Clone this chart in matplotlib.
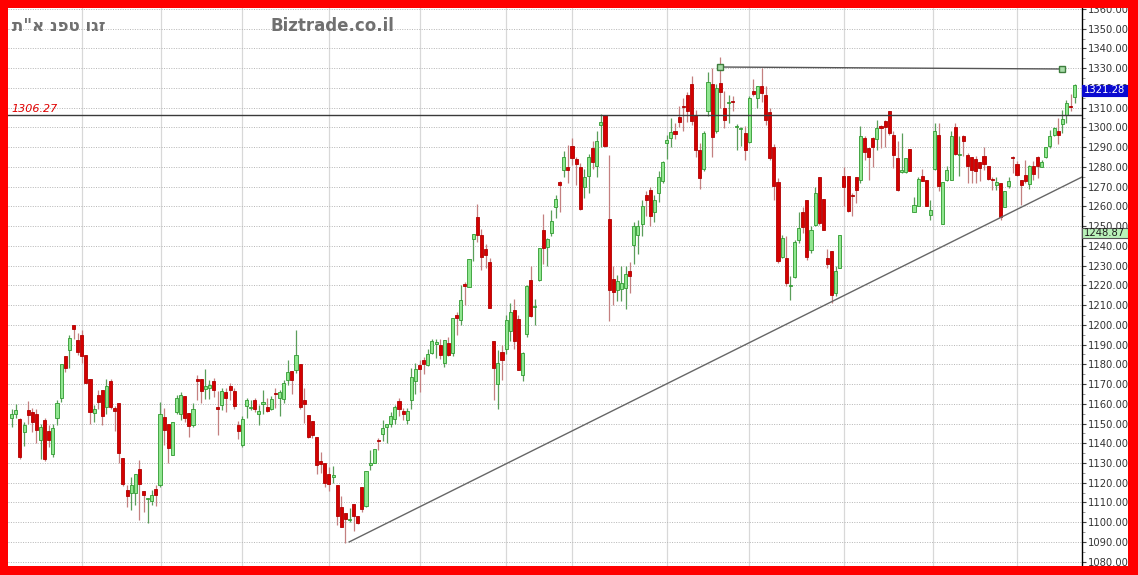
import matplotlib.pyplot as plt
import matplotlib.transforms as mtransforms
import numpy as np
from matplotlib.patches import Rectangle
from matplotlib.ticker import MultipleLocator, FormatStrFormatter

plt.rcParams['font.family'] = ['DejaVu Sans', 'Liberation Sans']

# daily candles (oldest first)
opens = [
    1153, 1154.8, 1152.4, 1145.5, 1156.8, 1155.8, 1155, 1141.6, 1151.7, 1146.3,
    1134.5, 1152.7, 1163, 1184.2, 1187.2, 1200, 1192.3, 1194.8, 1184.8, 1172.5,
    1155.1, 1164.4, 1167, 1158.5, 1171.3, 1158, 1160.2, 1132.6, 1116.2, 1115,
    1114.6, 1127.2, 1115.7, 1111.6, 1110.8, 1116.6, 1118.8, 1153.4, 1150, 1134,
    1155.8, 1154.6, 1164, 1155.5, 1149, 1172.3,
    1172.5, 1167.4, 1168, 1171.3, 1158.3, 1159.5, 1165.8, 1168.8, 1166.3, 1149.4,
    1138.9, 1158.7, 1158, 1161.7, 1154.8, 1159.9, 1158.2, 1157.3, 1165.6, 1162.9,
    1162.4, 1172.2, 1176.4, 1176.9, 1180.3, 1162, 1154.4, 1151.1, 1143.4, 1130.8,
    1129.9, 1124.5, 1123, 1118.9, 1107.5, 1104.6, 1101.2, 1109.2, 1102.9, 1118,
    1108.4, 1129.2, 1129.9, 1141.9, 1144.8, 1148.2,
    1150, 1152.2, 1161.2, 1156.2, 1151.9, 1161.7, 1171.3, 1179.8, 1182.3, 1179.8,
    1185.8, 1190.1, 1190, 1180.6, 1190.8, 1185.6, 1204.8, 1202.2, 1220.5, 1219.2,
    1243.5, 1254.6, 1245.7, 1238.4, 1231.6, 1191.6, 1170.2, 1186, 1187.8, 1196.7,
    1207.3, 1203, 1174.7, 1195.5, 1222.9, 1208.8, 1222.9, 1248.2, 1239.4, 1246.3,
    1259.5, 1272.5,
    1278.5, 1279.9, 1290.7, 1284, 1279.9, 1269.7, 1275.5, 1289.5, 1280.6, 1301.3,
    1306.4, 1253.5, 1223.2, 1217.4, 1218.3, 1218.5, 1227.5, 1240.6, 1245.6, 1251.2,
    1265.9, 1268.4, 1257, 1266.7, 1273.1, 1292, 1294.6, 1298, 1305.3, 1310.8,
    1316.6,
    1321.8, 1306.5, 1288.5, 1279, 1308.2, 1321.8, 1298, 1322.5, 1310, 1312.2,
    1313.5, 1300.2, 1299, 1297.1, 1292.4, 1318.3, 1315, 1320.8, 1316.6, 1307.6,
    1290, 1272.1, 1234.6, 1233.8, 1219.8, 1224.4, 1243.1, 1257.3, 1263, 1238,
    1250.7, 1274.8, 1263.7, 1233.9, 1237.2, 1216.1, 1228.7, 1275.2, 1275.2, 1265.8,
    1274.8, 1273.5, 1294.6, 1289.6, 1294.4, 1294.1, 1300.5, 1303.4, 1308.1,
    1296.3, 1284.5, 1277.2, 1277.2, 1289, 1257, 1260, 1275.5, 1273.5, 1255.4,
    1279.1, 1296.3, 1251.2, 1273.2, 1273.5, 1300, 1286, 1295.5, 1286.2, 1285,
    1284, 1282.3, 1285.3, 1280.3, 1273.7, 1271, 1271.8, 1259.7, 1270.1, 1284.7,
    1281.6, 1273.2, 1276, 1271.3, 1280.6, 1285, 1279.8, 1285, 1290.4, 1296,
    1298, 1301.7, 1306.5, 1310.5, 1315.6,
]
highs = [
    1157.5, 1159.7, 1153, 1150.9, 1161.5, 1158, 1157.6, 1149.7, 1152.6, 1149.2,
    1149.7, 1161.9, 1180, 1184.2, 1195, 1200, 1196.1, 1197.3, 1184.8, 1172.5,
    1159.2, 1167, 1167, 1172.3, 1172.8, 1159, 1160.2, 1132.6, 1118.8, 1123,
    1124.4, 1131.5, 1115.7, 1112.5, 1116.2, 1118.8, 1161, 1158, 1150, 1151,
    1164.4, 1166.1, 1164, 1155.5, 1160.5, 1174.5,
    1172.5, 1177.6, 1172.2, 1173, 1166.3, 1168, 1168, 1170.5, 1168, 1151.1,
    1154, 1162.9, 1162, 1162.9, 1159.6, 1167, 1162.9, 1163.7, 1168, 1167,
    1172.2, 1182, 1176.4, 1197.2, 1180.3, 1168, 1154.4, 1151.1, 1143.4, 1135.4,
    1129.9, 1128.2, 1128.5, 1118.9, 1113.4, 1104.6, 1107, 1109.2, 1102.9, 1118,
    1125.7, 1136.4, 1137.2, 1142.6, 1151.9, 1149.7,
    1156, 1159.5, 1163, 1158, 1158, 1178, 1180.6, 1182, 1183.5, 1187.9,
    1193, 1193, 1192.8, 1192.5, 1194, 1203.5, 1206.6, 1220, 1221.6, 1233.1,
    1246, 1261.1, 1248.5, 1241, 1234, 1191.6, 1187, 1190, 1205.2, 1211,
    1213, 1205, 1186, 1220, 1230, 1213, 1239, 1256, 1244, 1258,
    1266, 1273,
    1288, 1291, 1294.5, 1285, 1282, 1279, 1286.5, 1293, 1298, 1307,
    1306.4, 1286, 1230, 1225, 1230, 1230, 1232, 1252, 1253, 1263,
    1268, 1270, 1266, 1278, 1283, 1296, 1305, 1302, 1311, 1315,
    1318,
    1326, 1309, 1292, 1298, 1328, 1330, 1322, 1335.7, 1318.3, 1316.6,
    1315.7, 1301.9, 1300, 1300.5, 1315.7, 1324.5, 1321.1, 1330, 1320.8, 1309.8,
    1291.7, 1274.3, 1245.6, 1244.8, 1224.5, 1243, 1257.3, 1259.8, 1263.3, 1249.9,
    1270, 1275, 1263.7, 1238.6, 1237.2, 1229.6, 1245.6, 1280.2, 1275.2, 1266.7,
    1274.8, 1300.5, 1295.8, 1289.6, 1295.4, 1303.9, 1301.4, 1304, 1308.1,
    1298, 1292.9, 1297.2, 1284.5, 1289, 1265, 1274.9, 1278.9, 1273.5, 1263.4,
    1302.2, 1302.2, 1272.2, 1280.3, 1298, 1302.2, 1295.5, 1296.3, 1287, 1285,
    1285.3, 1282.3, 1290, 1280.3, 1274.9, 1274.9, 1271.8, 1267.6, 1274.9, 1285.3,
    1282.8, 1273.2, 1283.3, 1281.1, 1282.8, 1285.3, 1283.3, 1290.1, 1298.9, 1300.2,
    1304.8, 1309, 1314, 1317.1, 1321.8,
]
lows = [
    1148, 1152.6, 1132, 1138.5, 1150, 1145.5, 1140, 1132, 1131, 1138,
    1133, 1149, 1160.8, 1176, 1177.9, 1192.6, 1184.5, 1180.8, 1170.3, 1150,
    1150.7, 1157.5, 1149, 1155, 1157.6, 1146, 1129.8, 1118.6, 1107.5, 1106,
    1108.6, 1101, 1105, 1099.4, 1108.6, 1108.1, 1118, 1138.9, 1130, 1134,
    1155, 1151.7, 1150.9, 1143.3, 1148.3, 1161.9,
    1160.3, 1162.4, 1162.4, 1163.4, 1144.3, 1157, 1156, 1162, 1157.4, 1142.2,
    1138, 1152.7, 1157, 1155.6, 1149.4, 1155, 1155.6, 1156.6, 1157.8, 1153.8,
    1160.3, 1169.6, 1164.9, 1175.6, 1157.3, 1150.2, 1142.6, 1142.6, 1124.5, 1124.9,
    1118, 1115.6, 1119.8, 1098.7, 1097.5, 1089.7, 1100, 1095.4, 1099.1, 1105.4,
    1107.9, 1126.5, 1129.9, 1136.8, 1141, 1140.2,
    1148, 1150, 1154, 1152, 1150, 1157.3, 1165, 1166, 1175, 1179,
    1185, 1183, 1182.6, 1178.8, 1184, 1184, 1195, 1200, 1210, 1219,
    1232.5, 1242, 1228, 1229, 1208.5, 1162, 1157.3, 1172, 1185, 1192,
    1188, 1177, 1171.3, 1194, 1204, 1200, 1222, 1231, 1230, 1245,
    1254, 1257,
    1275, 1272, 1281, 1271, 1258, 1264, 1267, 1279, 1275, 1290,
    1290, 1202, 1210, 1212, 1212, 1208, 1216, 1231, 1236, 1245,
    1255, 1250, 1252, 1262, 1272, 1284, 1290, 1294, 1300, 1298,
    1303,
    1301, 1285, 1269, 1278, 1306, 1285, 1297, 1310, 1299.7, 1302.2,
    1308.1, 1288.7, 1290.4, 1283.6, 1292, 1315.8, 1309.8, 1313, 1301.4, 1283.6,
    1263.4, 1231.2, 1233.8, 1219.5, 1212.7, 1223.6, 1241.4, 1246.3, 1233, 1236.3,
    1250, 1250.7, 1248, 1228.9, 1211, 1214.6, 1228.7, 1260, 1257, 1254.9,
    1261.7, 1271.8, 1283.6, 1273.5, 1280.2, 1288.7, 1289.5, 1290, 1296,
    1279.4, 1268, 1276.9, 1276.9, 1277.7, 1257, 1260, 1273, 1260, 1252.9,
    1278.6, 1267.6, 1251.2, 1272.7, 1273.5, 1286.2, 1275.2, 1285.3, 1271.8, 1271.8,
    1271.8, 1272.7, 1278.6, 1273.5, 1268.4, 1268.4, 1253.2, 1259.7, 1269.3, 1276.9,
    1275.5, 1260.8, 1271.8, 1268.8, 1273.2, 1274.4, 1279.8, 1284.5, 1289.5, 1295.5,
    1291.8, 1297.2, 1302.2, 1308.1, 1312.5,
]
closes = [
    1155, 1156.8, 1133, 1149.2, 1154.4, 1150.7, 1146.7, 1148.3, 1132, 1141.6,
    1147.7, 1160.2, 1180, 1178, 1193.4, 1197.7, 1186.4, 1184.3, 1170.3, 1155.8,
    1157.3, 1161, 1153.7, 1169, 1158.5, 1156.5, 1135.2, 1119.6, 1113.2, 1119.1,
    1124.4, 1119.3, 1113.7, 1112.5, 1113.7, 1114, 1155, 1146.7, 1137.4, 1151,
    1163, 1164.4, 1152.9, 1148.7, 1157.6, 1171.5,
    1166.7, 1168.8, 1169.6, 1167, 1157.3, 1166.3, 1162.9, 1166.8, 1158.7, 1146.4,
    1152.3, 1162, 1158.6, 1157.3, 1156.5, 1161, 1156.5, 1162.4, 1165, 1165.8,
    1170.5, 1175.9, 1172.2, 1184.9, 1158.3, 1159.9, 1143.4, 1144.3, 1128.8, 1129.4,
    1119.8, 1119.4, 1123.7, 1102.9, 1097.5, 1101.6, 1101.8, 1102.9, 1099.5, 1106.6,
    1125.7, 1129.8, 1137, 1141, 1147.7, 1149.7,
    1154, 1158.2, 1157.3, 1154.8, 1156.2, 1173.5, 1177.6, 1177.6, 1180.1, 1185.4,
    1191.6, 1191.3, 1184.8, 1192.2, 1184.8, 1203.4, 1203.7, 1212.4, 1219.5, 1233.1,
    1246, 1245.7, 1234.4, 1235.5, 1208.5, 1178.1, 1180.6, 1182, 1202.6, 1206.3,
    1191.6, 1177.3, 1185.7, 1219.5, 1204.6, 1209.6, 1238.9, 1238.9, 1243.6, 1252.4,
    1263.7, 1271,
    1285, 1278.5, 1284.4, 1281.4, 1258.6, 1274.8, 1285, 1282.3, 1293, 1302.5,
    1290.4, 1217.4, 1216.4, 1222, 1221, 1225.8, 1224.5, 1249.9, 1249.9, 1260.3,
    1263.3, 1255.3, 1263.3, 1274.8, 1282.6, 1293.4, 1297.5, 1296.6, 1303, 1310.3,
    1308.2,
    1303.2, 1288.5, 1274.3, 1297.2, 1323.2, 1295.1, 1320, 1317.7, 1303.7, 1312.8,
    1313, 1300.8, 1299.4, 1288.7, 1314.9, 1317.1, 1321.1, 1317.4, 1303.9, 1284.5,
    1270.5, 1232.1, 1243.9, 1221.1, 1220.2, 1242.2, 1249, 1249.7, 1234.6, 1248.2,
    1266.7, 1251.6, 1248.2, 1230.6, 1215.2, 1227.1, 1245.3, 1269.8, 1257.5, 1265.4,
    1268.4, 1295.8, 1287.5, 1285, 1289.9, 1299.7, 1299.5, 1300, 1297.1,
    1286.2, 1268.4, 1278.6, 1284.5, 1277.7, 1260.8, 1273.8, 1273, 1260.3, 1258,
    1298.3, 1270.1, 1272.2, 1278.6, 1295.8, 1286.7, 1286.4, 1292.9, 1280.6, 1278.6,
    1277.7, 1279.4, 1281.5, 1273.9, 1273.3, 1272.2, 1254.6, 1267.6, 1273, 1284.3,
    1276, 1271, 1272.7, 1280.3, 1276.4, 1280.6, 1282.3, 1290.1, 1295.8, 1299.7,
    1296.3, 1304.3, 1312.4, 1310.1, 1321.28,
]

# month separators (candle index)
month_lines = [17, 36.2, 56, 77, 99, 120, 136, 159, 179, 202, 223.6, 244]

# drawn lines
level_price = 1306.27
trend_x = [81.9, 259.7]
trend_y = [1090.0, 1274.8]
peak_x = [172, 255]
peak_y = [1330.6, 1329.6]

last_price = 1321.28
other_price = 1248.87

title_he = 'ת"א נפט וגז'
site = 'Biztrade.co.il'

W, H = 1138, 575
fig = plt.figure(figsize=(W / 100, H / 100), dpi=100)
fig.patch.set_facecolor('white')

ax = fig.add_axes([8 / W, (H - 566) / H, (1081.5 - 8) / W, (566 - 8) / H])
ax.set_facecolor('white')

o = np.array(opens)
h = np.array(highs)
l = np.array(lows)
c = np.array(closes)
idx = np.arange(len(c))
up = c >= o

ax.vlines(idx[up], l[up], h[up], color='#5a9e5a', lw=0.9, zorder=2)
ax.vlines(idx[~up], l[~up], h[~up], color='#c48080', lw=0.9, zorder=2)

body_lo = np.minimum(o, c)
body_h = np.maximum(np.abs(c - o), 0.6)
ax.bar(idx[up], body_h[up], bottom=body_lo[up], width=0.75,
       color='#90e690', edgecolor='#2f9a2f', lw=0.6, zorder=3)
ax.bar(idx[~up], body_h[~up], bottom=body_lo[~up], width=0.75,
       color='#d40000', edgecolor='#b00000', lw=0.6, zorder=3)

# lines drawn by user
ax.axhline(level_price, color='#3a3a3a', lw=1.0, zorder=4)
ax.annotate(f'{level_price:.2f}', xy=(0.003, level_price), xycoords=('axes fraction', 'data'),
            xytext=(0, 1), textcoords='offset points', va='bottom', ha='left',
            color='#e00000', fontsize=8, style='italic', zorder=5)
ax.plot(trend_x, trend_y, color='#666666', lw=1.0, zorder=4)
ax.plot(peak_x, peak_y, color='#555555', lw=1.0, marker='s', ms=5,
        mfc='#a9dca9', mec='#3d7d3d', mew=1, zorder=5)

ax.set_xlim(-0.9, 259.66)
ax.set_ylim(1077.82, 1360.5)

ax.set_xticks(month_lines)
ax.tick_params(axis='x', length=0, labelbottom=False)
ax.grid(axis='x', color='#d8d8d8', lw=0.9, ls='-', zorder=0)

ax.yaxis.set_major_locator(MultipleLocator(10))
ax.yaxis.set_minor_locator(MultipleLocator(5))
ax.yaxis.set_major_formatter(FormatStrFormatter('%.2f'))
ax.yaxis.tick_right()
ax.tick_params(axis='y', which='major', direction='out', length=3, width=0.8,
               color='#444444', labelsize=7.2, labelcolor='#333333', pad=1.5)
ax.tick_params(axis='y', which='minor', direction='out', length=2, width=0.6, color='#888888')
ax.grid(axis='y', which='major', color='#b5b5b5', lw=0.7, ls=(0, (1, 1.5)), zorder=0)
ax.set_axisbelow(True)

for side in ['left', 'top', 'bottom']:
    ax.spines[side].set_visible(False)
ax.spines['right'].set_color('black')
ax.spines['right'].set_linewidth(1.0)

# price boxes at right
blend = mtransforms.blended_transform_factory(ax.transAxes, ax.transData)
box_w = (1128 - 1081.5) / (1081.5 - 8)
px = 1.974  # pixels per point of price
for price, face, edge, txt in [(last_price, '#0a0ad0', '#0a0ad0', 'white'),
                               (other_price, '#b9f2b9', '#555555', '#202020')]:
    top = price + 0.2
    ax.add_patch(Rectangle((1.0, top - 10.5 / px), box_w, 10.5 / px, transform=blend,
                           facecolor=face, edgecolor=edge, lw=0.8, clip_on=False, zorder=6))
    ax.text(1.0 + box_w / 2, top - 5.25 / px, f'{price:.2f}', transform=blend,
            ha='center', va='center', fontsize=7.2, color=txt, clip_on=False, zorder=7)

fig.text(12 / W, 1 - 26 / H, title_he, ha='left', va='center', fontsize=12,
         fontweight='bold', color='#707070')
fig.text(270 / W, 1 - 26 / H, site, ha='left', va='center', fontsize=12,
         fontweight='bold', color='#707070')

# red frame
for x0, y0, w, hh in [(0, 0, 8, H), (1128, 0, W - 1128, H), (0, 0, W, 9), (0, H - 8, W, 8)]:
    fig.add_artist(Rectangle((x0 / W, y0 / H), w / W, hh / H, transform=fig.transFigure,
                             facecolor='#ff0000', edgecolor='none', zorder=20))

fig.savefig('out.png', dpi=100)
